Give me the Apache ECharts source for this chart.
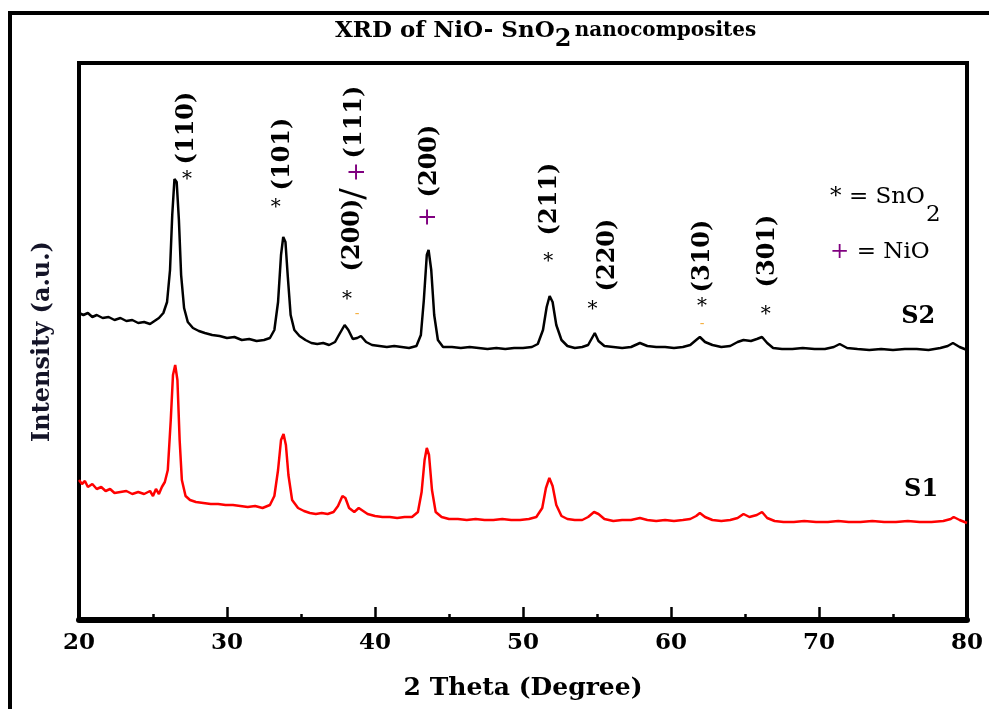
<!DOCTYPE html>
<html>
<head>
<meta charset="utf-8">
<script src="https://cdn.jsdelivr.net/npm/echarts@6/dist/echarts.min.js"></script>
<style>
  html, body { margin: 0; padding: 0; background: #fff; }
  #chart { width: 989px; height: 709px; }
</style>
</head>
<body>
<div id="chart"></div>
<script>
// XRD patterns, [2 theta (deg), intensity (a.u.)]
const s2Data = [
  [20.0,307],[20.3,305],[20.6,307],[20.9,303],[21.2,305],[21.6,302],[22.0,303],[22.4,300],[22.8,302],[23.2,299],
  [23.6,300],[24.0,297],[24.4,298],[24.8,296],[25.1,299],[25.4,302],[25.7,307],[25.95,318],[26.15,350],[26.3,405],
  [26.45,441],[26.6,438],[26.75,400],[26.9,345],[27.1,312],[27.35,298],[27.7,292],[28.1,289],[28.5,287],[29.0,285],
  [29.5,284],[30.0,282],[30.5,283],[31.0,280],[31.5,281],[32.0,279],[32.5,280],[32.9,282],[33.2,290],[33.45,318],
  [33.65,365],[33.8,383],[33.95,378],[34.1,345],[34.3,305],[34.55,290],[34.9,284],[35.3,280],[35.7,277],[36.1,276],
  [36.5,277],[36.9,275],[37.3,278],[37.6,286],[37.95,295],[38.2,290],[38.5,281],[38.8,282],[39.05,284],[39.4,278],
  [39.8,275],[40.3,274],[40.8,273],[41.3,274],[41.8,273],[42.3,272],[42.8,274],[43.1,285],[43.3,320],[43.5,365],
  [43.62,370],[43.8,350],[44.0,305],[44.25,280],[44.6,273],[45.2,273],[45.8,272],[46.4,273],[47.0,272],[47.6,271],
  [48.2,272],[48.8,271],[49.4,272],[50.0,272],[50.6,273],[51.0,276],[51.35,290],[51.6,313],[51.8,324],[52.0,318],
  [52.25,295],[52.6,280],[53.0,274],[53.5,272],[54.0,273],[54.4,275],[54.7,283],[54.85,287],[55.1,279],[55.5,274],
  [56.1,273],[56.7,272],[57.3,273],[57.9,277],[58.4,274],[59.0,273],[59.6,273],[60.2,272],[60.8,273],[61.3,275],
  [61.7,280],[61.95,283],[62.3,278],[62.8,275],[63.4,273],[64.0,274],[64.5,278],[64.9,280],[65.4,279],[65.8,281],
  [66.15,283],[66.5,277],[66.9,272],[67.5,271],[68.2,271],[68.9,272],[69.7,271],[70.4,271],[71.0,273],[71.4,276],
  [71.9,272],[72.6,271],[73.4,270],[74.2,271],[75.0,270],[75.8,271],[76.6,271],[77.4,270],[78.2,272],[78.7,274],
  [79.05,277],[79.5,273],[80.0,270]
];
const s1Data = [
  [20.0,140],[20.2,136],[20.4,139],[20.6,133],[20.9,136],[21.2,131],[21.5,133],[21.8,129],[22.1,131],[22.4,127],
  [22.8,128],[23.2,129],[23.6,126],[24.0,128],[24.4,126],[24.8,129],[25.0,124],[25.2,131],[25.4,126],[25.6,133],
  [25.8,138],[26.0,150],[26.2,200],[26.35,245],[26.5,255],[26.65,240],[26.8,180],[26.95,140],[27.2,124],[27.5,120],
  [27.9,118],[28.4,117],[28.9,116],[29.4,116],[29.9,115],[30.4,115],[30.9,114],[31.4,113],[31.9,114],[32.4,112],
  [32.9,115],[33.2,124],[33.45,150],[33.65,180],[33.82,186],[33.98,175],[34.15,145],[34.4,120],[34.8,112],[35.2,109],
  [35.6,107],[36.0,106],[36.4,107],[36.8,106],[37.2,108],[37.5,114],[37.8,124],[38.0,122],[38.25,112],[38.6,108],
  [38.9,112],[39.1,110],[39.5,106],[40.0,104],[40.5,103],[41.0,103],[41.5,102],[42.0,103],[42.5,103],[42.9,108],
  [43.15,128],[43.35,160],[43.5,172],[43.65,165],[43.85,130],[44.1,108],[44.5,103],[45.0,101],[45.6,101],[46.2,100],
  [46.8,101],[47.4,100],[48.0,100],[48.6,101],[49.2,100],[49.8,100],[50.4,101],[50.9,103],[51.3,112],[51.55,132],
  [51.78,142],[52.0,134],[52.25,115],[52.6,104],[53.0,101],[53.5,100],[54.0,100],[54.4,103],[54.8,108],[55.1,106],
  [55.5,101],[56.1,99],[56.7,100],[57.3,100],[57.9,102],[58.4,100],[59.0,99],[59.6,100],[60.2,99],[60.8,100],
  [61.3,101],[61.7,104],[61.95,107],[62.3,103],[62.8,100],[63.4,99],[64.0,100],[64.5,102],[64.9,106],[65.3,103],
  [65.8,105],[66.15,108],[66.5,102],[67.0,99],[67.6,98],[68.3,98],[69.0,99],[69.8,98],[70.6,98],[71.3,99],
  [72.0,98],[72.8,98],[73.6,99],[74.4,98],[75.2,98],[76.0,99],[76.8,98],[77.6,98],[78.4,99],[78.9,101],
  [79.1,103],[79.5,100],[80.0,97]
];

// peak indices (rotated), [2 theta, height, text]
const hklLabels = [
  [27.3,492,'(110)'],[33.8,466,'(101)'],[38.5,385,'(200)'],[38.65,498,'(111)'],
  [43.7,459,'(200)'],[51.8,421,'(211)'],[55.7,365,'(220)'],[62.15,364,'(310)'],[66.55,369,'(301)']
];
// phase markers: * = SnO2, + = NiO
const sno2Marks = [[27.3,440],[33.3,412],[38.1,320],[51.7,358],[54.7,310],[62.1,313],[66.4,305]];
const nioMarks = [[38.85,448],[43.65,403]];
const dashMarks = [[38.8,306],[62.1,296]];
const sampleNames = [[76.7,303,'S2'],[76.9,130,'S1']];
const xTicks = [20, 30, 40, 50, 60, 70, 80];

const FONT = 'DejaVu Serif';
const chart = echarts.init(document.getElementById('chart'));

function textLayer(data, label) {
  return {
    type: 'scatter', symbolSize: 0, z: 5, silent: true,
    itemStyle: { color: '#000', opacity: 1 },
    data: data,
    label: Object.assign({ show: true, position: 'inside', textBorderWidth: 0, opacity: 1 }, label)
  };
}

const option = {
  backgroundColor: '#fff',
  animation: false,
  graphic: [
    {
      type: 'rect',
      shape: { x: 10, y: 13, width: 1000, height: 720 },
      style: { fill: 'none', stroke: '#000', lineWidth: 4 },
      z: 0
    },
    {
      type: 'text',
      left: 335,
      top: 20,
      style: {
        text: '{a|XRD of NiO- SnO}{s|2} {n|nanocomposites}',
        fill: '#000',
        rich: {
          a: { fontFamily: FONT, fontWeight: 'bold', fontSize: 23 },
          s: { fontFamily: FONT, fontWeight: 'bold', fontSize: 24, padding: [16, 0, 0, 0] },
          n: { fontFamily: FONT, fontWeight: 'bold', fontSize: 20, padding: [0, 0, 2, 0] }
        }
      }
    }
  ],
  grid: {
    left: 79, right: 22, top: 63, bottom: 89,
    show: true, borderColor: '#000', borderWidth: 4, backgroundColor: 'transparent'
  },
  xAxis: {
    type: 'value',
    min: 20, max: 80, interval: 10,
    name: '2 Theta (Degree)',
    nameLocation: 'middle',
    nameGap: 56,
    nameTextStyle: { fontFamily: FONT, fontWeight: 'bold', fontSize: 25, color: '#000' },
    axisLine: { show: true, lineStyle: { color: '#000', width: 6 } },
    axisTick: { show: true, inside: true, length: 13, lineStyle: { color: '#000', width: 2.5 } },
    minorTick: { show: true, splitNumber: 2, length: 6, lineStyle: { color: '#000', width: 2.5 } },
    axisLabel: {
      fontFamily: FONT, fontWeight: 'bold', fontSize: 23, color: '#000', margin: 12,
      formatter: v => xTicks.indexOf(v) >= 0 ? String(v) : ''
    },
    splitLine: { show: false }
  },
  yAxis: {
    type: 'value',
    min: 0, max: 557,
    name: 'Intensity (a.u.)',
    nameLocation: 'middle',
    nameGap: 24,
    nameTextStyle: { fontFamily: FONT, fontWeight: 'bold', fontSize: 24, color: '#141428' },
    axisLine: { show: false },
    axisTick: { show: false },
    axisLabel: { show: false },
    splitLine: { show: false }
  },
  series: [
    {
      name: 'S2', type: 'line', data: s2Data, showSymbol: false,
      lineStyle: { color: '#000', width: 2.5 }, z: 2
    },
    {
      name: 'S1', type: 'line', data: s1Data, showSymbol: false,
      lineStyle: { color: '#ff0000', width: 2.5 }, z: 2
    },
    textLayer(hklLabels.map(d => ({ value: [d[0], d[1]], name: d[2] })), {
      rotate: 90, formatter: '{b}', fontFamily: FONT, fontWeight: 'bold', fontSize: 24, color: '#000'
    }),
    textLayer(sno2Marks, { formatter: '*', fontFamily: FONT, fontSize: 20, color: '#000' }),
    textLayer(nioMarks, { rotate: 90, formatter: '+', fontFamily: FONT, fontSize: 24, color: '#800080' }),
    textLayer(dashMarks, { formatter: '-', fontFamily: FONT, fontSize: 14, color: '#f5b041' }),
    textLayer([[38.65, 426]], { rotate: 90, formatter: '/', fontFamily: FONT, fontSize: 34, color: '#000' }),
    textLayer(sampleNames.map(d => ({ value: [d[0], d[1]], name: d[2] })), {
      formatter: '{b}', fontFamily: FONT, fontWeight: 'bold', fontSize: 24, color: '#000'
    }),
    textLayer([
      { value: [70.75, 423], name: 'sno2' },
      { value: [70.75, 368], name: 'nio' }
    ], {
      position: 'right', distance: 0,
      formatter: p => p.name === 'sno2' ? '{t|* = SnO}{s|2}' : '{p|+}{t| = NiO}',
      rich: {
        t: { fontFamily: FONT, fontSize: 23, color: '#000' },
        s: { fontFamily: FONT, fontSize: 23, color: '#000', padding: [36, 0, 0, 1] },
        p: { fontFamily: FONT, fontSize: 23, color: '#800080' }
      }
    })
  ]
};

chart.setOption(option);
</script>
</body>
</html>
